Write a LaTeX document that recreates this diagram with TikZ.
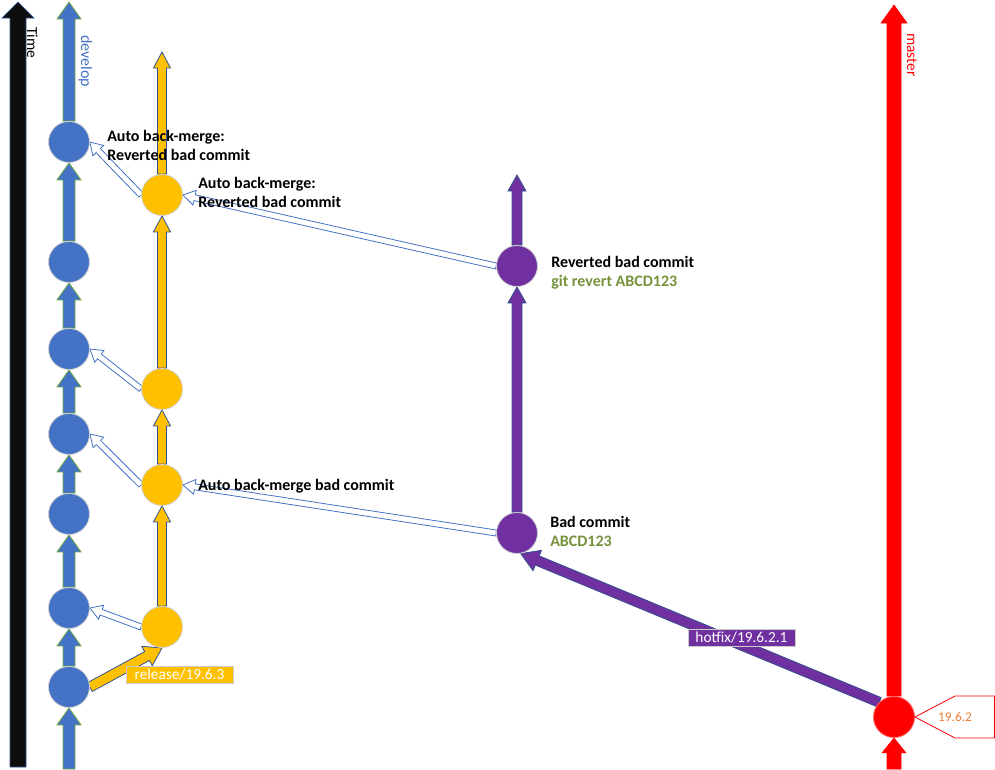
\documentclass[tikz,border=0pt]{standalone}
\usepackage{fontspec}
\setmainfont{Carlito}
\usetikzlibrary{calc,backgrounds}
\definecolor{devblue}{RGB}{68,114,196}
\definecolor{devgreen}{RGB}{112,173,71}
\definecolor{relyellow}{RGB}{255,192,0}
\definecolor{hotpurple}{RGB}{112,48,160}
\definecolor{outlineblue}{RGB}{47,82,143}
\definecolor{timeblack}{RGB}{13,13,13}
\definecolor{olivetxt}{RGB}{118,146,60}
\definecolor{tagorange}{RGB}{237,125,49}
\newcommand\blkarrow[6]{%
  \coordinate (ba-s) at (#2);
  \coordinate (ba-e) at (#3);
  \coordinate (ba-h) at ($(ba-e)!#6!(ba-s)$);
  \draw[#1] ($(ba-s)!#4!90:(ba-e)$) -- ($(ba-h)!#4!90:(ba-e)$) -- ($(ba-h)!#5!90:(ba-e)$) -- (ba-e) -- ($(ba-h)!#5!-90:(ba-e)$) -- ($(ba-h)!#4!-90:(ba-e)$) -- ($(ba-s)!#4!-90:(ba-e)$) -- cycle;
}
\tikzset{
  timearrow/.style={fill=timeblack, draw=outlineblue, line width=0.5pt, line join=miter},
  devarrow/.style={fill=devblue, draw=devgreen, line width=0.6pt, line join=miter},
  relarrow/.style={fill=relyellow, draw=outlineblue, line width=0.6pt, line join=miter},
  hotarrow/.style={fill=hotpurple, draw=outlineblue, line width=0.6pt, line join=miter},
  masterarrow/.style={fill=red, draw=red, line width=0.4pt, line join=miter},
  mergearrow/.style={fill=white, draw=devblue, line width=0.6pt, line join=miter},
  commit/.style={circle, minimum size=30.75pt, inner sep=0pt, draw=black!18, line width=0.6pt},
  devcommit/.style={commit, fill=devblue},
  relcommit/.style={commit, fill=relyellow},
  hotcommit/.style={commit, fill=hotpurple},
  mastercommit/.style={commit, fill=red, draw=red!60},
  lbl/.style={anchor=base west, inner sep=0pt, font=\bfseries\fontsize{12}{14}\selectfont},
  vlbl/.style={anchor=base west, inner sep=0pt, rotate=-90, font=\fontsize{11.5}{13}\selectfont},
  branchbox/.style={draw=black!20, line width=0.5pt, text=white, minimum width=80pt, minimum height=12.75pt, inner sep=0pt, font=\fontsize{11.5}{13}\selectfont},
}
\begin{document}
\begin{tikzpicture}[x=0.75pt,y=-0.75pt]
\useasboundingbox (0,0) rectangle (995,769);
% commits
\node[devcommit] (d1) at (69,142) {};
\node[devcommit] (d2) at (69,262) {};
\node[devcommit] (d3) at (69,349) {};
\node[devcommit] (d4) at (69,434) {};
\node[devcommit] (d5) at (69,514) {};
\node[devcommit] (d6) at (69,608) {};
\node[devcommit] (d7) at (69,687) {};
\node[relcommit] (y1) at (162,195) {};
\node[relcommit] (y2) at (162,389) {};
\node[relcommit] (y3) at (162,485) {};
\node[relcommit] (y4) at (162,627) {};
\node[hotcommit] (p1) at (517,266) {};
\node[hotcommit] (p2) at (517,533) {};
\node[mastercommit] (m) at (894,717) {};
% free ends
\coordinate (timebot) at (18,767);
\coordinate (timetop) at (18,2);
\coordinate (devbot) at (69,769);
\coordinate (devtop) at (69,2);
\coordinate (reltop) at (162,52);
\coordinate (hottop) at (517,175);
\coordinate (mastertop) at (894,5);
\coordinate (masterbot) at (894,769);
\begin{pgfonlayer}{background}
\blkarrow{timearrow}{timebot}{timetop}{6pt}{12pt}{12pt}
% develop
\blkarrow{devarrow}{devbot}{d7.south}{4.5pt}{9pt}{12.75pt}
\blkarrow{devarrow}{d7.north}{d6.south}{4.5pt}{9pt}{12.75pt}
\blkarrow{devarrow}{d6.north}{d5.south}{4.5pt}{9pt}{12.75pt}
\blkarrow{devarrow}{d5.north}{d4.south}{4.5pt}{9pt}{12.75pt}
\blkarrow{devarrow}{d4.north}{d3.south}{4.5pt}{9pt}{12.75pt}
\blkarrow{devarrow}{d3.north}{d2.south}{4.5pt}{9pt}{12.75pt}
\blkarrow{devarrow}{d2.north}{d1.south}{4.5pt}{9pt}{12.75pt}
\blkarrow{devarrow}{d1.north}{devtop}{4.5pt}{9pt}{12.75pt}
% release
\blkarrow{relarrow}{d7.east}{y4.south}{3.75pt}{8.25pt}{12.75pt}
\blkarrow{relarrow}{y4.north}{y3.south}{3.4pt}{6.4pt}{12pt}
\blkarrow{relarrow}{y3.north}{y2.south}{3.4pt}{6.4pt}{12pt}
\blkarrow{relarrow}{y2.north}{y1.south}{3.4pt}{6.4pt}{12pt}
\blkarrow{relarrow}{y1.north}{reltop}{3.4pt}{6.4pt}{12pt}
% hotfix
\blkarrow{hotarrow}{m.north west}{p2.-80}{3.75pt}{8.25pt}{13.5pt}
\blkarrow{hotarrow}{p2.north}{p1.south}{3.75pt}{6.75pt}{12pt}
\blkarrow{hotarrow}{p1.north}{hottop}{3.75pt}{6.75pt}{12pt}
% master
\blkarrow{masterarrow}{masterbot}{m.south}{5.25pt}{9pt}{11.25pt}
\blkarrow{masterarrow}{m.north}{mastertop}{5.25pt}{9.75pt}{13.5pt}
% back-merges
\blkarrow{mergearrow}{y1.west}{d1.east}{2.25pt}{5.6pt}{9pt}
\blkarrow{mergearrow}{y2.west}{d3.east}{2.25pt}{5.6pt}{9pt}
\blkarrow{mergearrow}{y3.west}{d4.east}{2.25pt}{5.6pt}{9pt}
\blkarrow{mergearrow}{y4.west}{d6.east}{2.25pt}{5.6pt}{9pt}
\blkarrow{mergearrow}{p1.west}{y1.east}{2.25pt}{5.6pt}{9pt}
\blkarrow{mergearrow}{p2.west}{y3.east}{2.25pt}{5.6pt}{9pt}
\end{pgfonlayer}
% branch labels
\node[branchbox, fill=relyellow] (rellbl) at (179.5,674.5) {release/19.6.3};
\node[branchbox, fill=hotpurple] (hotlbl) at (741.5,637.5) {hotfix/19.6.2.1};
% vertical labels
\node[vlbl, text=black] (timelbl) at (27,27) {Time};
\node[vlbl, text=devblue, font=\fontsize{12}{14}\selectfont] (devlbl) at (81,35) {develop};
\node[vlbl, text=red] (masterlbl) at (907,33) {master};
% tag
\draw[red, fill=white, line width=0.6pt] (m.east) -- (955,696) -- (994.5,696) -- (994.5,738) -- (955,738) -- cycle;
\node[text=tagorange, inner sep=0pt, font=\fontsize{10}{12}\selectfont] (taglbl) at (955,717) {19.6.2};
% commit texts
\node[lbl] (t1a) at (107,141) {Auto back-merge:};
\node[lbl] (t1b) at (107,160) {Reverted bad commit};
\node[lbl] (t2a) at (198,188) {Auto back-merge:};
\node[lbl] (t2b) at (198,207) {Reverted bad commit};
\node[lbl] (t3a) at (551,267) {Reverted bad commit};
\node[lbl, text=olivetxt] (t3b) at (551,286) {git revert ABCD123};
\node[lbl] (t4) at (198,490) {Auto back-merge bad commit};
\node[lbl] (t5a) at (550,527) {Bad commit};
\node[lbl, text=olivetxt] (t5b) at (550,546) {ABCD123};
\end{tikzpicture}
\end{document}
